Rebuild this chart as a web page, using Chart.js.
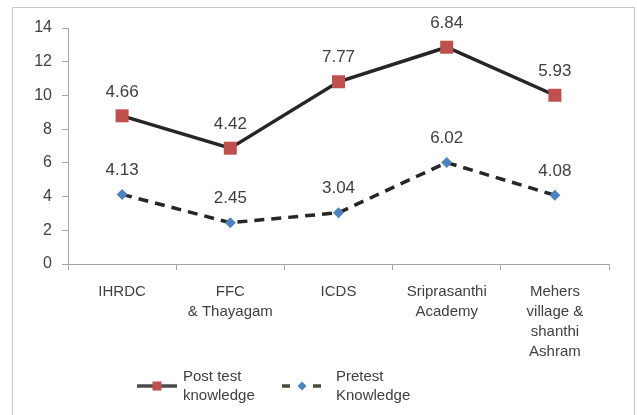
<!DOCTYPE html>
<html>
<head>
<meta charset="utf-8">
<script src="https://cdn.jsdelivr.net/npm/chart.js@4.4.1/dist/chart.umd.min.js"></script>
<style>
  body { margin: 0; background: #fff; }
  #frame { position: absolute; left: 12px; top: 7px; width: 621px; height: 420px; border: 1px solid #c8c8c8; }
  #chart { position: absolute; left: 0; top: 0; }
</style>
</head>
<body>
<div id="frame"></div>
<canvas id="chart" width="637" height="415"></canvas>
<script>
// categories and values
const categories = ['IHRDC', ['FFC', '& Thayagam'], 'ICDS', ['Sriprasanthi', 'Academy'], ['Mehers', 'village &', 'shanthi', 'Ashram']];
const pretest = [4.13, 2.45, 3.04, 6.02, 4.08];
const postTest = [4.66, 4.42, 7.77, 6.84, 5.93];   // stacked on top of pretest
const yTicks = [0, 2, 4, 6, 8, 10, 12, 14];

const textColor = '#404040';
const axisColor = '#a6a6a6';
const font = 'Liberation Sans, Arial, sans-serif';

// value labels above each point
const valueLabels = {
    id: 'valueLabels',
    afterDatasetsDraw(chart) {
        const ctx = chart.ctx;
        ctx.save();
        ctx.font = '17px ' + font;
        ctx.fillStyle = textColor;
        ctx.textAlign = 'center';
        ctx.textBaseline = 'middle';
        chart.data.datasets.forEach((ds, i) => {
            chart.getDatasetMeta(i).data.forEach((pt, j) => {
                ctx.fillText(ds.data[j].toFixed(2), pt.x, pt.y - 24);
            });
        });
        ctx.restore();
    }
};

// legend at the bottom, two-line labels
const bottomLegend = {
    id: 'bottomLegend',
    afterDraw(chart) {
        const ctx = chart.ctx;
        const y = 386;
        ctx.save();
        // post test
        ctx.strokeStyle = '#4a4a4a';
        ctx.lineWidth = 3.5;
        ctx.beginPath();
        ctx.moveTo(137, y); ctx.lineTo(177, y);
        ctx.stroke();
        ctx.fillStyle = '#C0504D';
        ctx.fillRect(152.5, y - 4.5, 9, 9);
        // pretest
        ctx.strokeStyle = '#4a4a3a';
        ctx.beginPath();
        ctx.moveTo(282, y); ctx.lineTo(290, y);
        ctx.moveTo(313, y); ctx.lineTo(321, y);
        ctx.stroke();
        ctx.fillStyle = '#4F81BD';
        ctx.beginPath();
        ctx.moveTo(302, y - 4.5); ctx.lineTo(306.5, y); ctx.lineTo(302, y + 4.5); ctx.lineTo(297.5, y);
        ctx.closePath();
        ctx.fill();
        // texts
        ctx.font = '15px ' + font;
        ctx.fillStyle = textColor;
        ctx.textAlign = 'left';
        ctx.textBaseline = 'middle';
        ctx.fillText('Post test', 183, 377);
        ctx.fillText('knowledge', 183, 396);
        ctx.fillText('Pretest', 336, 377);
        ctx.fillText('Knowledge', 336, 396);
        ctx.restore();
    }
};

new Chart(document.getElementById('chart'), {
    type: 'line',
    data: {
        labels: categories,
        datasets: [
            {
                label: 'Pretest Knowledge',
                data: pretest,
                borderColor: '#262626',
                borderWidth: 3.5,
                borderDash: [10, 7],
                pointStyle: 'rectRot',
                pointRadius: 5.5,
                pointBackgroundColor: '#4F81BD',
                pointBorderWidth: 0,
                tension: 0,
                clip: false
            },
            {
                label: 'Post test knowledge',
                data: postTest,
                borderColor: '#262626',
                borderWidth: 3.5,
                pointStyle: 'rect',
                pointRadius: 9.2,
                pointBackgroundColor: '#C0504D',
                pointBorderWidth: 0,
                tension: 0,
                clip: false
            }
        ]
    },
    options: {
        responsive: false,
        animation: false,
        layout: { padding: { top: 28, right: 28, left: 0, bottom: 0 } },
        plugins: { legend: { display: false }, tooltip: { enabled: false } },
        scales: {
            x: {
                offset: true,
                grid: { offset: true, drawOnChartArea: false, color: axisColor, tickLength: 6 },
                border: { color: axisColor },
                ticks: { color: textColor, font: { family: font, size: 15, lineHeight: 1.33 }, padding: 12, maxRotation: 0, autoSkip: false },
                afterFit(scale) { scale.height = 151; }
            },
            y: {
                stacked: true,
                min: 0,
                max: 14,
                afterBuildTicks(scale) { scale.ticks = yTicks.map(v => ({ value: v })); },
                grid: { drawOnChartArea: false, color: axisColor, tickLength: 6 },
                border: { color: axisColor },
                ticks: { color: textColor, font: { family: font, size: 16 }, padding: 10 },
                afterFit(scale) { scale.width = 68; }
            }
        }
    },
    plugins: [valueLabels, bottomLegend]
});
</script>
</body>
</html>
